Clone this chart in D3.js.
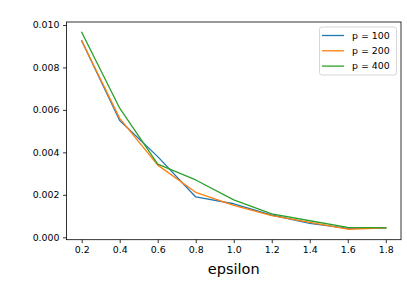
<!DOCTYPE html>
<html><head><meta charset="utf-8">
<script src="https://cdn.jsdelivr.net/npm/d3@7"></script>
<style>body{margin:0;background:#fff}svg{display:block}</style>
</head><body>
<svg id="c" width="407" height="283"></svg>
<script>
const epsilon = [0.2, 0.4, 0.6, 0.8, 1.0, 1.2, 1.4, 1.6, 1.8];
const p100 = [0.00925, 0.0055, 0.0038, 0.0019, 0.00158, 0.00105, 0.00066, 0.00042, 0.00044];
const p200 = [0.00925, 0.0056, 0.0034, 0.00212, 0.0015, 0.00102, 0.0007, 0.00038, 0.00044];
const p400 = [0.00965, 0.00608, 0.00345, 0.0027, 0.00176, 0.0011, 0.00078, 0.00047, 0.00044];
const seriesNames = ["p = 100", "p = 200", "p = 400"];
const colors = ["#1f77b4", "#ff7f0e", "#2ca02c"];
const xTicks = [0.2, 0.4, 0.6, 0.8, 1.0, 1.2, 1.4, 1.6, 1.8];
const yTicks = [0.000, 0.002, 0.004, 0.006, 0.008, 0.010];

const svg = d3.select("#c");
const L = 66.5, R = 401, T = 22, B = 239.7;
const x = d3.scaleLinear().domain([0.12, 1.88]).range([L, R]);
const y = d3.scaleLinear().domain([-0.000113, 0.01014]).range([B, T]);

const font = "DejaVu Sans, sans-serif";
const xa = svg.append("g").attr("transform", `translate(0,${B})`)
  .call(d3.axisBottom(x).tickValues(xTicks).tickFormat(d3.format(".1f")).tickSizeOuter(0).tickSize(3.5).tickPadding(3.5));
const ya = svg.append("g").attr("transform", `translate(${L},0)`)
  .call(d3.axisLeft(y).tickValues(yTicks).tickFormat(d3.format(".3f")).tickSizeOuter(0).tickSize(3.5).tickPadding(3.5));
[xa, ya].forEach(a => {
  a.select(".domain").remove();
  a.selectAll("text").attr("font-family", font).attr("font-size", 9.4).attr("fill", "#000");
  a.selectAll("line").attr("stroke", "#000").attr("stroke-width", 0.8);
});

const all = [p100, p200, p400];
const line = d3.line().x((d, i) => x(epsilon[i])).y(d => y(d));
all.forEach((s, k) => {
  svg.append("path").datum(s).attr("d", line).attr("fill", "none")
    .attr("stroke", colors[k]).attr("stroke-width", 1.3).attr("stroke-linejoin", "round").attr("stroke-linecap", "square");
});

svg.append("rect").attr("x", L).attr("y", T).attr("width", R - L).attr("height", B - T)
  .attr("fill", "none").attr("stroke", "#000").attr("stroke-width", 0.8);

svg.append("text").attr("x", (L + R) / 2).attr("y", 274).attr("text-anchor", "middle")
  .attr("font-family", font).attr("font-size", 14.5).attr("fill", "#000").text("epsilon");

const lg = svg.append("g");
lg.append("rect").attr("x", 319.5).attr("y", 27).attr("width", 77).attr("height", 48).attr("rx", 2.5)
  .attr("fill", "#fff").attr("fill-opacity", 0.8).attr("stroke", "#ccc").attr("stroke-width", 0.8);
seriesNames.forEach((n, k) => {
  const yy = 35.5 + k * 15.3;
  lg.append("line").attr("x1", 322).attr("x2", 344).attr("y1", yy).attr("y2", yy)
    .attr("stroke", colors[k]).attr("stroke-width", 1.3);
  lg.append("text").attr("x", 352).attr("y", yy).attr("dy", "0.35em")
    .attr("font-family", font).attr("font-size", 9.4).attr("fill", "#000").text(n);
});
</script>
</body></html>
